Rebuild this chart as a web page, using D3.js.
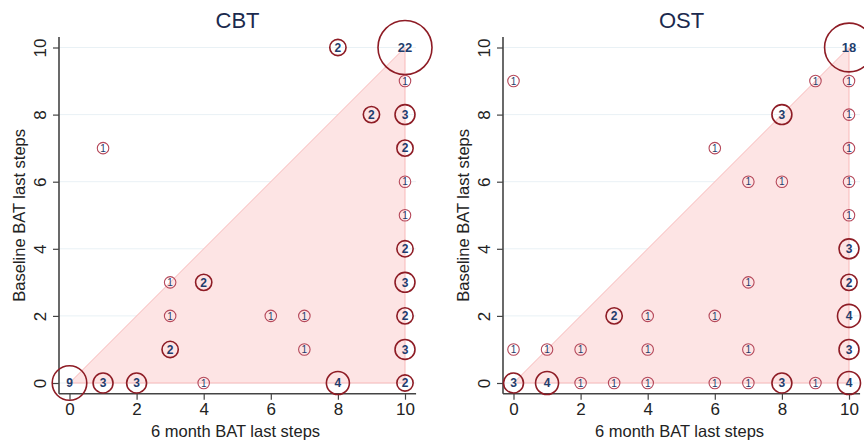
<!DOCTYPE html>
<html>
<head>
<meta charset="utf-8">
<script src="https://cdn.jsdelivr.net/npm/d3@7"></script>
<style>
  body { margin: 0; background: #fff; }
  svg { display: block; font-family: "Liberation Sans", Arial, sans-serif; }
</style>
</head>
<body>
<div id="chart"></div>
<script>
// [6 month BAT last steps, baseline BAT last steps, count]
const cbtPoints = [
  [8, 10, 2], [10, 10, 22], [10, 9, 1], [9, 8, 2], [10, 8, 3], [1, 7, 1],
  [10, 7, 2], [10, 6, 1], [10, 5, 1], [10, 4, 2], [3, 3, 1], [4, 3, 2],
  [10, 3, 3], [3, 2, 1], [6, 2, 1], [7, 2, 1], [10, 2, 2], [3, 1, 2],
  [7, 1, 1], [10, 1, 3], [0, 0, 9], [1, 0, 3], [2, 0, 3], [4, 0, 1],
  [8, 0, 4], [10, 0, 2]
];
const ostPoints = [
  [10, 10, 18], [0, 9, 1], [9, 9, 1], [10, 9, 1], [8, 8, 3], [10, 8, 1],
  [6, 7, 1], [10, 7, 1], [7, 6, 1], [8, 6, 1], [10, 6, 1], [10, 5, 1],
  [10, 4, 3], [7, 3, 1], [10, 3, 2], [3, 2, 2], [4, 2, 1], [6, 2, 1],
  [10, 2, 4], [0, 1, 1], [1, 1, 1], [2, 1, 1], [4, 1, 1], [7, 1, 1],
  [10, 1, 3], [0, 0, 3], [1, 0, 4], [2, 0, 1], [3, 0, 1], [4, 0, 1],
  [6, 0, 1], [7, 0, 1], [8, 0, 3], [9, 0, 1], [10, 0, 4]
];
const ticks = [0, 2, 4, 6, 8, 10];
const triangle = [[0, 0], [10, 10], [10, 0]];
const xTitle = "6 month BAT last steps";
const yTitle = "Baseline BAT last steps";

const width = 864, height = 443;
const svg = d3.select("#chart").append("svg")
  .attr("width", width)
  .attr("height", height);

const r = d3.scaleSqrt().domain([0, 22]).range([0, 27]);

function panel(title, points, left) {
  const x = d3.scaleLinear().domain([0, 10]).range([left + 10.5, left + 346]);
  const y = d3.scaleLinear().domain([0, 10]).range([383, 47.5]);
  const x0 = left, x1 = x(10.33), yBottom = 393.7, yTop = 37;
  const g = svg.append("g");

  g.append("g")
    .selectAll("line")
    .data(ticks)
    .join("line")
    .attr("x1", x0).attr("x2", x1)
    .attr("y1", d => y(d)).attr("y2", d => y(d))
    .attr("stroke", "#e9f1f5")
    .attr("stroke-width", 1);

  g.append("path")
    .attr("d", d3.line().x(d => x(d[0])).y(d => y(d[1]))(triangle) + "Z")
    .attr("fill", "#fde4e4")
    .attr("stroke", "#f8b9b9")
    .attr("stroke-width", 1);

  // axes
  const xAxis = g.append("g")
    .attr("transform", `translate(0,${yBottom})`)
    .call(d3.axisBottom(x).tickValues(ticks).tickSize(6).tickPadding(3));
  xAxis.select(".domain").attr("d", `M${x0},0H${x1}`);
  const yAxis = g.append("g")
    .attr("transform", `translate(${x0},0)`)
    .call(d3.axisLeft(y).tickValues(ticks).tickSize(6).tickPadding(4));
  yAxis.select(".domain").attr("d", `M0,${yTop}V${yBottom}`);
  [xAxis, yAxis].forEach(a => {
    a.selectAll(".domain").attr("stroke", "#444").attr("stroke-width", 1.6);
    a.selectAll(".tick line").attr("stroke", "#444").attr("stroke-width", 1.2);
    a.selectAll(".tick text").attr("fill", "#222").attr("font-size", 17)
      .attr("font-family", "Liberation Sans, Arial, sans-serif");
  });
  yAxis.selectAll(".tick text")
    .attr("x", null).attr("dy", null)
    .attr("text-anchor", "middle")
    .attr("transform", "translate(-19,0) rotate(-90)")
    .attr("y", 0)
    .attr("dominant-baseline", "central");

  // bubbles
  const dots = g.append("g")
    .selectAll("g")
    .data(points)
    .join("g")
    .attr("transform", d => `translate(${x(d[0])},${y(d[1])})`);
  dots.append("circle")
    .attr("r", d => r(d[2]))
    .attr("fill", "none")
    .attr("stroke", d => d[2] === 1 ? "#b5485a" : "#8e1c25")
    .attr("stroke-width", d => d[2] === 1 ? 1.1 : 1.6);
  dots.append("text")
    .attr("text-anchor", "middle")
    .attr("dy", "0.36em")
    .attr("fill", "#1f3d6d")
    .attr("font-family", "Liberation Sans, Arial, sans-serif")
    .attr("font-weight", d => d[2] === 1 ? "normal" : "bold")
    .attr("font-size", d => d[2] === 1 ? 10 : (d[2] > 9 ? 13 : 12))
    .text(d => d[2]);

  g.append("text")
    .attr("x", (x0 + x1) / 2).attr("y", 28)
    .attr("text-anchor", "middle")
    .attr("font-size", 22)
    .attr("fill", "#1b2a4e")
    .text(title);
  g.append("text")
    .attr("x", (x0 + x1) / 2 - 2).attr("y", 437)
    .attr("text-anchor", "middle")
    .attr("font-size", 16.5)
    .attr("fill", "#222")
    .text(xTitle);
  g.append("text")
    .attr("transform", `translate(${left - 34},${(yTop + yBottom) / 2}) rotate(-90)`)
    .attr("text-anchor", "middle")
    .attr("font-size", 16.5)
    .attr("fill", "#222")
    .text(yTitle);
}

panel("CBT", cbtPoints, 59);
panel("OST", ostPoints, 503);
</script>
</body>
</html>
